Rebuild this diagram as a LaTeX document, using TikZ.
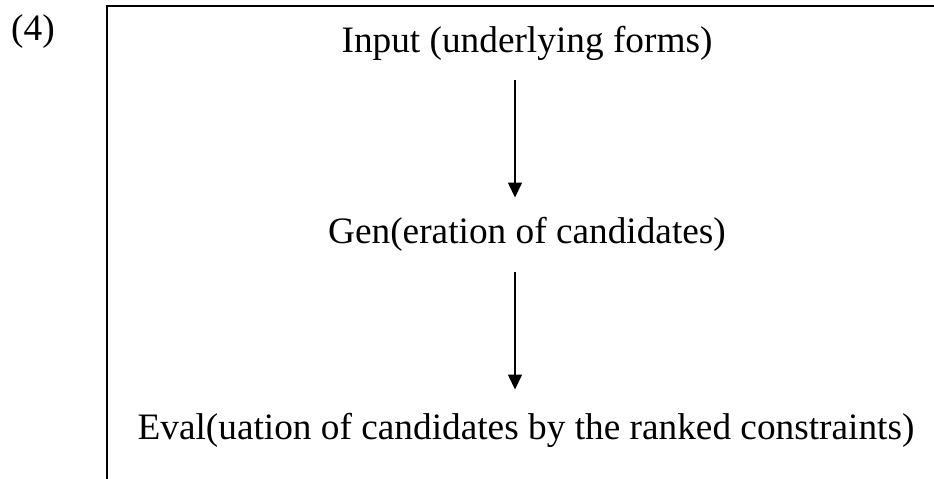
\documentclass[tikz,border=0pt]{standalone}
\usepackage{fontspec}
\setmainfont{Liberation Serif}
\usetikzlibrary{arrows.meta}
\begin{document}
\begin{tikzpicture}[x=1pt,y=-1pt,
  lbl/.style={inner sep=0pt, anchor=base, font=\fontsize{37.3}{44}\selectfont},
  arr/.style={line width=1.4pt, -{Triangle[width=14pt,length=15pt]}},
  frame/.style={line width=1.8pt}]
\useasboundingbox (0,0) rectangle (934,479);
\node[lbl, anchor=base west] (num) at (11,40) {(4)};
\draw[frame] (107,479) -- (107,6) -- (934,6);
\node[lbl] (input) at (527,52) {Input (underlying forms)};
\node[lbl] (gen) at (527,243) {Gen(eration of candidates)};
\node[lbl] (eval) at (526,439) {Eval(uation of candidates by the ranked constraints)};
\draw[arr, shorten <=20pt, shorten >=19pt] ([xshift=-12pt]input.south) -- ([xshift=-12pt]gen.north);
\draw[arr, shorten <=21pt, shorten >=23pt] ([xshift=-12pt]gen.south) -- ([xshift=-12pt]gen.south |- eval.north);
\end{tikzpicture}
\end{document}
